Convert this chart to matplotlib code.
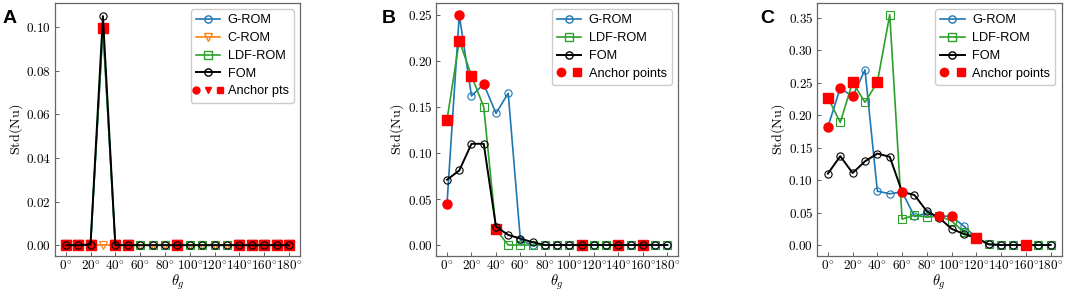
import matplotlib
matplotlib.use("Agg")
import matplotlib.pyplot as plt
from matplotlib.lines import Line2D
from matplotlib.legend_handler import HandlerTuple

plt.rcParams['mathtext.fontset'] = 'cm'
plt.rcParams['font.family'] = ['Liberation Sans', 'DejaVu Sans']

theta = list(range(0, 181, 10))

# Panel A
a_grom = [0, 0, 0, 0.0995, 0, 0, 0, 0, 0, 0, 0, 0, 0, 0, 0, 0, 0, 0, 0]
a_crom = [0] * 19
a_ldf = [0, 0, 0, 0.0995, 0, 0, 0, 0, 0, 0, 0, 0, 0, 0, 0, 0, 0, 0, 0]
a_fom = [0, 0, 0.0003, 0.105, 0, 0, 0, 0, 0, 0, 0, 0, 0, 0, 0, 0, 0, 0, 0]
a_anchor_g = [0, 10, 20, 40, 50, 90, 140, 150, 160, 170, 180]
a_anchor_c = [0, 10, 20, 40, 50, 90, 140, 150, 160, 170, 180]
a_anchor_l = [0, 10, 20, 30, 40, 50, 90, 140, 150, 160, 170, 180]

# Panel B
b_grom = [0.045, 0.250, 0.162, 0.175, 0.143, 0.165, 0.005, 0, 0, 0, 0, 0, 0, 0, 0, 0, 0, 0, 0]
b_ldf = [0.136, 0.222, 0.184, 0.150, 0.017, 0.0, 0.0, 0.0, 0, 0, 0, 0, 0, 0, 0, 0, 0, 0, 0]
b_fom = [0.071, 0.081, 0.110, 0.110, 0.020, 0.011, 0.007, 0.003, 0, 0, 0, 0, 0, 0, 0, 0, 0, 0, 0]
b_anchor_g = [0, 10, 30]
b_anchor_l = [0, 10, 20, 40, 110, 140, 160]

# Panel C
c_grom = [0.182, 0.242, 0.229, 0.270, 0.083, 0.079, 0.082, 0.044, 0.049, 0.045, 0.044,
          0.029, 0.011, 0.001, 0, 0, 0, 0, 0]
c_ldf = [0.227, 0.189, 0.251, 0.220, 0.251, 0.355, 0.040, 0.046, 0.043, 0.045, 0.037,
         0.020, 0.011, 0.002, 0, 0, 0, 0, 0]
c_fom = [0.110, 0.137, 0.111, 0.129, 0.141, 0.136, 0.082, 0.077, 0.052, 0.042, 0.025,
         0.017, 0.011, 0.001, 0, 0, 0, 0, 0]
c_anchor_g = [0, 10, 20, 60, 90, 100]
c_anchor_l = [0, 20, 40, 120, 160]

xtick_vals = list(range(0, 181, 20))
ytick_A = [0, 0.02, 0.04, 0.06, 0.08, 0.10]
ytick_B = [0, 0.05, 0.10, 0.15, 0.20, 0.25]
ytick_C = [0, 0.05, 0.10, 0.15, 0.20, 0.25, 0.30, 0.35]

C_G = '#1f77b4'
C_C = '#ff7f0e'
C_L = '#2ca02c'

fig = plt.figure(figsize=(10.65, 2.91), dpi=100)
axA = fig.add_axes([0.0512, 0.1200, 0.2307, 0.8697])
axB = fig.add_axes([0.4094, 0.1200, 0.2275, 0.8697])
axC = fig.add_axes([0.7669, 0.1200, 0.2300, 0.8697])

ms = 5.2
lw = 1.2
ams = 6.5


def vals_at(series, angles):
    return [series[theta.index(a)] for a in angles]


def style(ax, ylim, yticks, letter, letter_x):
    ax.set_xlim(-9, 189)
    ax.set_ylim(*ylim)
    ax.set_xticks(xtick_vals)
    ax.set_xticklabels([r'$%d^{\circ}$' % t for t in xtick_vals])
    ax.set_yticks(yticks)
    ax.set_yticklabels([r'$%.2f$' % y for y in yticks])
    ax.tick_params(direction='in', labelsize=9.5, length=3, width=0.6, color='#444444', pad=2.5)
    ax.tick_params(axis='x', pad=2)
    for s in ax.spines.values():
        s.set_color('#666666')
        s.set_linewidth(0.9)
    ax.set_xlabel(r'$\theta_g$', fontsize=10.5, labelpad=0)
    ax.set_ylabel(r'$\mathrm{Std(Nu)}$', fontsize=10.2, labelpad=1)
    fig.text(letter_x, 0.921, letter, fontsize=14, fontweight='bold',
             family='Liberation Sans')


def line(ax, y, color, marker, label, lwidth=lw, z=2):
    ax.plot(theta, y, color=color, marker=marker, markersize=ms, markerfacecolor='none',
            markeredgecolor=color, markeredgewidth=0.8, linewidth=lwidth, label=label, zorder=z)


def anchors(ax, xs, ys, marker, size=ams):
    ax.plot(xs, ys, linestyle='none', marker=marker, color='red', markersize=size, zorder=3)


leg_kw = dict(loc='upper right', fontsize=9.2, handlelength=1.9, handletextpad=0.6,
              labelspacing=0.45, borderaxespad=0.5, framealpha=1, edgecolor='#cccccc')

# ---------- Panel A ----------
line(axA, a_grom, C_G, 'o', 'G-ROM')
line(axA, a_crom, C_C, 'v', 'C-ROM')
line(axA, a_ldf, C_L, 's', 'LDF-ROM')
anchors(axA, a_anchor_g, vals_at(a_grom, a_anchor_g), 'o')
anchors(axA, a_anchor_c, vals_at(a_crom, a_anchor_c), 'v')
anchors(axA, a_anchor_l, vals_at(a_ldf, a_anchor_l), 's')
line(axA, a_fom, 'black', 'o', 'FOM', lwidth=1.4, z=4)
style(axA, (-0.005, 0.111), ytick_A, 'A', 0.002)

hA = [Line2D([], [], color=C_G, marker='o', mfc='none', ms=ms, lw=lw),
      Line2D([], [], color=C_C, marker='v', mfc='none', ms=ms, lw=lw),
      Line2D([], [], color=C_L, marker='s', mfc='none', ms=ms, lw=lw),
      Line2D([], [], color='black', marker='o', mfc='none', ms=ms, lw=1.4),
      (Line2D([], [], ls='none', marker='o', color='red', ms=5),
       Line2D([], [], ls='none', marker='v', color='red', ms=5),
       Line2D([], [], ls='none', marker='s', color='red', ms=5))]
axA.legend(hA, ['G-ROM', 'C-ROM', 'LDF-ROM', 'FOM', 'Anchor pts'],
           handler_map={tuple: HandlerTuple(ndivide=None, pad=0.9)}, **leg_kw)

# ---------- Panel B ----------
line(axB, b_grom, C_G, 'o', 'G-ROM')
line(axB, b_ldf, C_L, 's', 'LDF-ROM')
anchors(axB, b_anchor_g, vals_at(b_grom, b_anchor_g), 'o')
anchors(axB, b_anchor_l, vals_at(b_ldf, b_anchor_l), 's')
line(axB, b_fom, 'black', 'o', 'FOM', lwidth=1.4, z=4)
style(axB, (-0.012, 0.263), ytick_B, 'B', 0.3587)

labels_BC = ['G-ROM', 'LDF-ROM', 'FOM', 'Anchor points']


def handles_bc():
    return [Line2D([], [], color=C_G, marker='o', mfc='none', ms=ms, lw=lw),
            Line2D([], [], color=C_L, marker='s', mfc='none', ms=ms, lw=lw),
            Line2D([], [], color='black', marker='o', mfc='none', ms=ms, lw=1.4),
            (Line2D([], [], ls='none', marker='o', color='red', ms=6),
             Line2D([], [], ls='none', marker='s', color='red', ms=6))]


axB.legend(handles_bc(), labels_BC,
           handler_map={tuple: HandlerTuple(ndivide=None, pad=0.7)}, **leg_kw)

# ---------- Panel C ----------
line(axC, c_grom, C_G, 'o', 'G-ROM')
line(axC, c_ldf, C_L, 's', 'LDF-ROM')
line(axC, c_fom, 'black', 'o', 'FOM', lwidth=1.4, z=2.5)
anchors(axC, c_anchor_g, vals_at(c_grom, c_anchor_g), 'o')
anchors(axC, c_anchor_l, vals_at(c_ldf, c_anchor_l), 's')
style(axC, (-0.017, 0.373), ytick_C, 'C', 0.7136)

axC.legend(handles_bc(), labels_BC,
           handler_map={tuple: HandlerTuple(ndivide=None, pad=0.7)}, **leg_kw)

fig.savefig('out.png', dpi=100)
